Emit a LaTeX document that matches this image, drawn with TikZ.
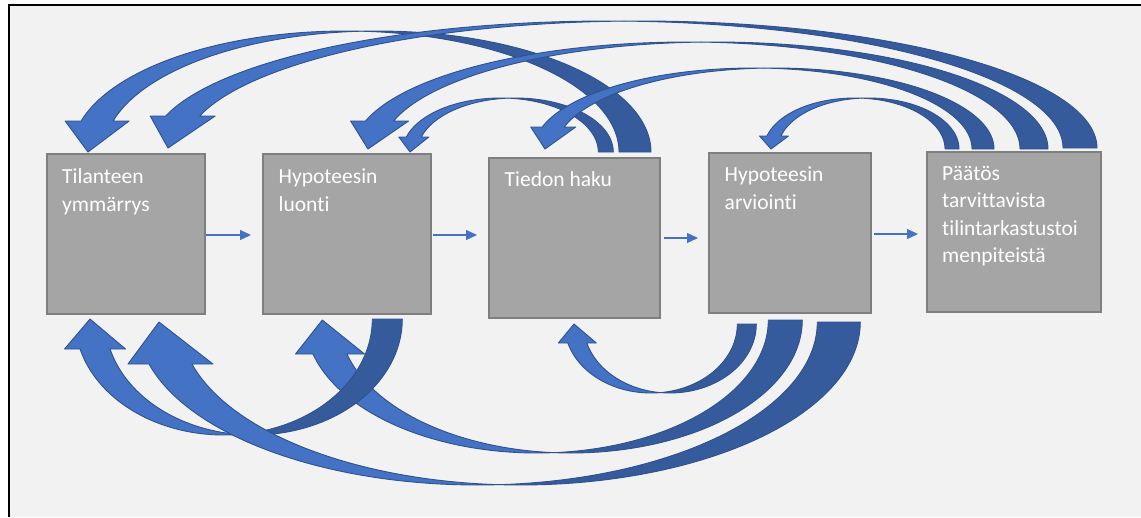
\documentclass[tikz,border=0pt]{standalone}
\usepackage{fontspec}
\setmainfont{Carlito}[Ligatures=NoCommon]
\usetikzlibrary{arrows.meta,calc}

\definecolor{pagebg}{HTML}{F2F2F2}
\definecolor{boxfill}{HTML}{A5A5A5}
\definecolor{boxline}{HTML}{7F7F7F}
\definecolor{ribbonblue}{HTML}{4472C4}
\definecolor{ribbonshade}{HTML}{365B9D}
\definecolor{ribbonedge}{HTML}{2F528F}

% fixed first-line height so every label starts at the same baseline
\newcommand\firstline{\rule{0pt}{20pt}}

\tikzset{
  stage/.style={draw=boxline, fill=boxfill, line width=1.8pt, inner sep=0pt, outer sep=0pt},
  stagetext/.style={text=white, font=\fontsize{21.5}{27.5}\selectfont, align=left,
    anchor=north west, inner sep=0pt},
  flow/.style={draw=ribbonblue, line width=1.2pt, -{Triangle[length=11pt,width=10pt]}},
  ribbonlit/.style={fill=ribbonblue, draw=ribbonedge, line width=0.9pt, line join=round},
  ribbondark/.style={fill=ribbonshade, draw=ribbonedge, line width=0.9pt, line join=round},
}

% Curved block arrow built from two congruent half ellipses shifted by the band width.
% #1 side (1 = arc above the baseline, -1 = below), #2 baseline y, #3 y radius,
% #4 left end x (head side), #5 inner tail x, #6 band width, #7 head length, #8 head width
\newcommand\loopband[8]{%
  \pgfmathsetmacro\lbC{(#4+#5)/2}%
  \pgfmathsetmacro\lbRx{(#5-#4)/2}%
  \pgfmathsetmacro\lbPh{180-asin(#7/#3)}%
  \pgfmathsetmacro\lbPa{acos(#6/(2*\lbRx))}%
  \pgfmathsetmacro\lbPb{180-\lbPa}%
  \pgfmathsetmacro\lbXh{\lbC-\lbRx*sqrt(1-(#7/#3)^2)}%
  \pgfmathsetmacro\lbDh{(#8-#6)/2}%
  \pgfmathsetmacro\lbYh{#2-(#1)*#7}%
  % shaded back of the ribbon, from the tail to the twist
  \filldraw[ribbondark]
    plot[domain=0:\lbPb, samples=90, variable=\t] ({\lbC+#6+\lbRx*cos(\t)},{#2-(#1)*#3*sin(\t)})
    -- plot[domain=\lbPa:0, samples=90, variable=\t] ({\lbC+\lbRx*cos(\t)},{#2-(#1)*#3*sin(\t)})
    -- cycle;
  % front of the ribbon with the arrow head
  \filldraw[ribbonlit] ({#4+#6/2},{#2}) -- ({\lbXh-\lbDh},{\lbYh})
    -- plot[domain=\lbPh:\lbPa, samples=90, variable=\t] ({\lbC+\lbRx*cos(\t)},{#2-(#1)*#3*sin(\t)})
    -- plot[domain=\lbPb:\lbPh, samples=90, variable=\t] ({\lbC+#6+\lbRx*cos(\t)},{#2-(#1)*#3*sin(\t)})
    -- ({\lbXh+#6+\lbDh},{\lbYh}) -- cycle;
}

\begin{document}
\begin{tikzpicture}[x=1pt, y=-1pt]
  \useasboundingbox (0,0) rectangle (1141,517);
  \fill[white] (0,0) rectangle (1141,517);
  \fill[pagebg] (9,5) rectangle (1141,517);
  \draw[black, line width=2.4pt] (9,517) -- (9,5) -- (1141,5);

  % process stages
  \node[stage, minimum width=158pt, minimum height=160pt] (b1) at (126,234) {};
  \node[stage, minimum width=168pt, minimum height=160pt] (b2) at (347,234) {};
  \node[stage, minimum width=171pt, minimum height=160pt] (b3) at (574.5,238) {};
  \node[stage, minimum width=162pt, minimum height=160pt] (b4) at (790,233) {};
  \node[stage, minimum width=174pt, minimum height=160pt] (b5) at (1014,232) {};

  \node[stagetext] (t1) at ($(b1.north west)+(15,9.3)$) {\firstline Tilanteen\\ymmärrys};
  \node[stagetext] (t2) at ($(b2.north west)+(15.5,9.3)$) {\firstline Hypoteesin\\luonti};
  \node[stagetext] (t3) at ($(b3.north west)+(15.5,8.7)$) {\firstline Tiedon haku};
  \node[stagetext] (t4) at ($(b4.north west)+(15.5,8.7)$) {\firstline Hypoteesin\\arviointi};
  \node[stagetext] (t5) at ($(b5.north west)+(15,8)$) {\firstline Päätös\\tarvittavista\\tilintarkastustoi\\menpiteistä};

  % forward flow
  \draw[flow] ($(b1.east)+(1,1)$) -- ($(b2.west)+(-12,1)$);
  \draw[flow] ($(b2.east)+(2,1)$) -- ($(b3.west)+(-12,-3)$);
  \draw[flow] ($(b3.east)+(4,0)$) -- ($(b4.west)+(-11,5)$);
  \draw[flow] ($(b4.east)+(3,1)$) -- ($(b5.west)+(-9,2)$);

  % feedback loops above the stages
  \loopband{1}{152}{121}{72}{619}{32}{31}{64}      % b3 -> b1
  \loopband{1}{152}{54}{402.5}{598.3}{15}{15}{30}  % b3 -> b2
  \loopband{1}{148}{127}{151}{1063}{34}{32}{65}    % b5 -> b1
  \loopband{1}{149}{107}{354}{1020}{28}{28}{58}    % b5 -> b2
  \loopband{1}{149}{81}{534}{972}{22}{22}{45}      % b5 -> b3
  \loopband{1}{149}{51}{764}{945}{14}{13}{29}      % b5 -> b4

  % feedback loops below the stages
  \loopband{-1}{324}{69}{564.5}{737.3}{19}{19}{38}  % b4 -> b3
  \loopband{-1}{320}{133}{305.3}{768.3}{34}{34}{69} % b4 -> b2
  \loopband{-1}{319}{116}{75}{372.3}{30}{30}{61}    % b2 -> b1
  \loopband{-1}{322}{163}{137.5}{817.3}{43}{42}{85} % b4 -> b1
\end{tikzpicture}
\end{document}
